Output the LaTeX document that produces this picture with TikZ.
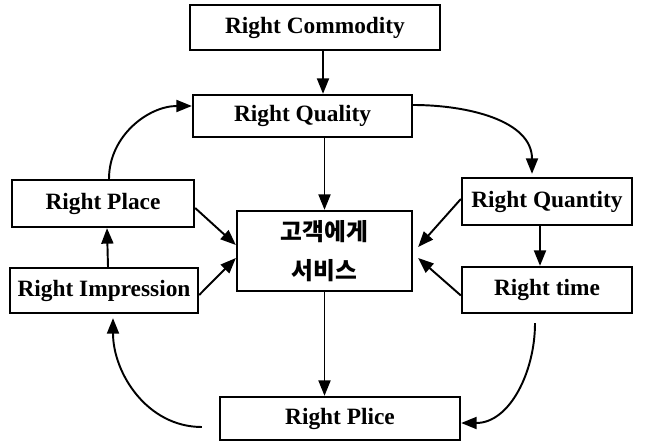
\documentclass[tikz,border=0pt]{standalone}
\usepackage{fontspec}
\setmainfont{Liberation Serif}
\newfontfamily\kofont{Noto Sans CJK KR}
\usetikzlibrary{arrows.meta}

\begin{document}
\begin{tikzpicture}[font=\bfseries\fontsize{13.3}{15}\selectfont,
  box/.style={draw,line width=1.3pt,inner sep=0pt},
  arr/.style={-{Triangle[length=3.1mm,width=2.4mm]},line width=1.1pt}]
% Frame: 650 x 446 px -> 13 x 8.92 cm (0.02 cm/px).
\useasboundingbox (0,0) rectangle (13,8.92);
% ---- the boxes -----------------------------------------------------------
\node[box,minimum width=5.00cm,minimum height=0.90cm] (commodity) at (6.30,8.37) {Right Commodity};
\node[box,minimum width=4.38cm,minimum height=0.84cm] (quality) at (6.05,6.60) {Right Quality};
\node[box,minimum width=3.64cm,minimum height=0.94cm] (place) at (2.06,4.85) {Right Place};
\node[box,minimum width=3.76cm,minimum height=0.90cm] (impression) at (2.08,3.11) {Right Impression};
\node[box,minimum width=3.40cm,minimum height=0.94cm] (quantity) at (10.94,4.89) {Right Quantity};
\node[box,minimum width=3.40cm,minimum height=0.92cm] (time) at (10.94,3.12) {Right time};
\node[box,minimum width=4.80cm,minimum height=0.86cm] (plice) at (6.80,0.55) {Right Plice};
\node[box,minimum width=3.50cm,minimum height=1.60cm,align=center,
  font=\kofont\bfseries\fontsize{13.5}{22.5}\selectfont] (hub) at (6.49,3.90) {고객에게\\서비스};

% ---- straight links --------------------------------------------------------
\draw[arr] ([xshift=0.16cm]commodity.south) -- ([xshift=0.41cm]quality.north);
\draw[arr] (quality.south -| hub.north) -- (hub.north);
\draw[arr] (hub.south) -- (hub.south |- plice.north);
\draw[arr] ([xshift=-0.14cm]quantity.south) -- ([xshift=-0.14cm]time.north);
\draw[arr] ([xshift=0.08cm]impression.north) -- ([xshift=0.08cm]place.north |- place.south);
% into the service box from both sides
\draw[arr] ([yshift=-0.09cm]place.east) -- ([yshift=0.12cm]hub.west);
\draw[arr] ([yshift=-0.09cm]impression.east) -- ([yshift=-0.14cm]hub.west);
\draw[arr] ([yshift=0.05cm]quantity.west) -- ([xshift=0.10cm,yshift=0.08cm]hub.east);
\draw[arr] ([yshift=-0.11cm]time.west) -- ([xshift=0.10cm,yshift=-0.14cm]hub.east);

% ---- the loop round the outside ------------------------------------------
\draw[arr] ([xshift=0.12cm]place.north) to[out=90,in=180] ([yshift=0.20cm]quality.west);
\draw[arr] ([yshift=0.22cm]quality.east) to[out=0,in=90] ([xshift=-0.30cm,yshift=0.06cm]quantity.north);
\draw[arr] ([xshift=-0.24cm,yshift=-0.18cm]time.south) to[out=-90,in=0] ([yshift=-0.09cm]plice.east);
\draw[arr] ([xshift=-0.34cm,yshift=-0.17cm]plice.west) to[out=180,in=-90] ([xshift=0.18cm,yshift=-0.08cm]impression.south);
\end{tikzpicture}
\end{document}
